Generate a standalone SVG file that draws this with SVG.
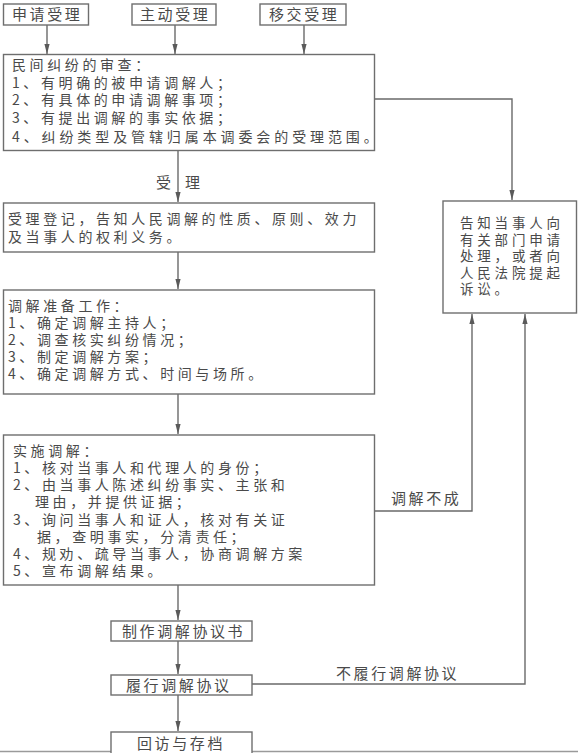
<svg xmlns="http://www.w3.org/2000/svg" width="578" height="753" viewBox="0 0 578 753">
<style>
.box{fill:#fff;stroke:#6e6e6e;stroke-width:1.4}
.t{font-family:"Noto Sans CJK SC","Noto Sans",sans-serif;font-size:15px;fill:#4a4a4a;letter-spacing:2.6px}
.m{font-size:14px;letter-spacing:3.6px}
.s{font-size:13.5px;letter-spacing:3.8px}
.c{fill:none;stroke:#6a6a6a;stroke-width:1.4}
</style>
<defs>
<marker id="ah" markerUnits="userSpaceOnUse" markerWidth="11" markerHeight="6" refX="10" refY="3" orient="auto">
<path d="M0,0.4 L10,3 L0,5.6 Z" fill="#5a5a5a"/>
</marker>
</defs>
<rect width="578" height="753" fill="#fff"/>
<line x1="0" y1="751.5" x2="578" y2="751.5" stroke="#9a9a9a" stroke-width="1.5"/>

<g id="connectors">
<line class="c" x1="47" y1="25" x2="47" y2="54" marker-end="url(#ah)"/>
<line class="c" x1="175" y1="25" x2="175" y2="54" marker-end="url(#ah)"/>
<line class="c" x1="304" y1="25" x2="304" y2="54" marker-end="url(#ah)"/>
<line class="c" x1="178" y1="150" x2="178" y2="202" marker-end="url(#ah)"/>
<line class="c" x1="178" y1="252" x2="178" y2="289" marker-end="url(#ah)"/>
<line class="c" x1="178" y1="394" x2="178" y2="434" marker-end="url(#ah)"/>
<line class="c" x1="178" y1="585" x2="178" y2="620" marker-end="url(#ah)"/>
<line class="c" x1="178" y1="641" x2="178" y2="674" marker-end="url(#ah)"/>
<line class="c" x1="178" y1="695" x2="178" y2="731" marker-end="url(#ah)"/>
<polyline class="c" points="374,99 512,99 512,200" marker-end="url(#ah)"/>
<polyline class="c" points="374,511 472,511 472,314" marker-end="url(#ah)"/>
<polyline class="c" points="252,684 525,684 525,314" marker-end="url(#ah)"/>
<text class="t" x="156" y="187.5">受</text>
<text class="t" x="185" y="187.5">理</text>
<text class="t" x="391" y="503.5" letter-spacing="2">调解不成</text>
<text class="t" x="336" y="679">不履行调解协议</text>
</g>

<g id="n1"><rect class="box" x="3.5" y="4" width="85" height="21"/><text class="t" x="12" y="20" letter-spacing="2">申请受理</text></g>
<g id="n2"><rect class="box" x="132" y="4" width="84" height="21"/><text class="t" x="140" y="20" letter-spacing="2">主动受理</text></g>
<g id="n3"><rect class="box" x="260" y="4" width="86" height="21"/><text class="t" x="269" y="20" letter-spacing="2">移交受理</text></g>

<g id="review"><rect class="box" x="3.5" y="54.5" width="371" height="96"/>
<text class="t m"><tspan x="12" y="70">民间纠纷的审查：</tspan><tspan x="12" y="87.5">1、有明确的被申请调解人；</tspan><tspan x="12" y="105">2、有具体的申请调解事项；</tspan><tspan x="12" y="123">3、有提出调解的事实依据；</tspan><tspan x="12" y="141.5" letter-spacing="3.9">4、纠纷类型及管辖归属本调委会的受理范围。</tspan></text>
</g>

<g id="register"><rect class="box" x="3.5" y="203" width="371" height="49"/>
<text class="t m" letter-spacing="4.5"><tspan x="8" y="224">受理登记，告知人民调解的性质、原则、效力</tspan><tspan x="8" y="242">及当事人的权利义务。</tspan></text>
</g>

<g id="prep"><rect class="box" x="3.5" y="290" width="371" height="104"/>
<text class="t m" letter-spacing="4.3"><tspan x="8" y="311">调解准备工作：</tspan><tspan x="8" y="328">1、确定调解主持人；</tspan><tspan x="8" y="345">2、调查核实纠纷情况；</tspan><tspan x="8" y="362">3、制定调解方案；</tspan><tspan x="8" y="379">4、确定调解方式、时间与场所。</tspan></text>
</g>

<g id="implement"><rect class="box" x="3.5" y="435" width="371" height="150"/>
<text class="t m"><tspan x="13" y="456">实施调解：</tspan><tspan x="13" y="473">1、核对当事人和代理人的身份；</tspan><tspan x="13" y="490">2、由当事人陈述纠纷事实、主张和</tspan><tspan x="35" y="507">理由，并提供证据；</tspan><tspan x="13" y="524.5">3、询问当事人和证人，核对有关证</tspan><tspan x="37" y="541.5">据，查明事实，分清责任；</tspan><tspan x="13" y="558.5">4、规劝、疏导当事人，协商调解方案</tspan><tspan x="13" y="575.5">5、宣布调解结果。</tspan></text>
</g>

<g id="inform"><rect class="box" x="443" y="201" width="133.5" height="112"/>
<text class="t s"><tspan x="460" y="228">告知当事人向</tspan><tspan x="460" y="244.5">有关部门申请</tspan><tspan x="460" y="261">处理，或者向</tspan><tspan x="460" y="277.5">人民法院提起</tspan><tspan x="460" y="294">诉讼。</tspan></text>
</g>

<g id="agreement"><rect class="box" x="111" y="621" width="141" height="20"/><text class="t" x="122" y="636.5">制作调解协议书</text></g>
<g id="perform"><rect class="box" x="111" y="675" width="141" height="20"/><text class="t" x="126" y="690.5">履行调解协议</text></g>
<g id="archive"><rect class="box" x="111" y="732" width="141" height="30"/><text class="t" x="137" y="749" letter-spacing="2.2">回访与存档</text></g>
</svg>
